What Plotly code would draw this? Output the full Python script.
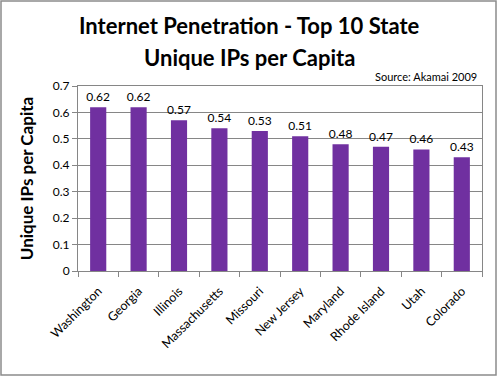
import plotly.graph_objects as go

states = ["Washington", "Georgia", "Illinois", "Massachusetts", "Missouri",
          "New Jersey", "Maryland", "Rhode Island", "Utah", "Colorado"]
values = [0.62, 0.62, 0.57, 0.54, 0.53, 0.51, 0.48, 0.47, 0.46, 0.43]
y_ticks = [0, 0.1, 0.2, 0.3, 0.4, 0.5, 0.6, 0.7]
y_tick_labels = ["0", "0.1", "0.2", "0.3", "0.4", "0.5", "0.6", "0.7"]

W, H = 498, 377
L, R, T, B = 78, 16, 86, 106
pw, ph = W - L - R, H - T - B

def px(x):
    return (x - L) / pw

def py(y):
    return (H - B - y) / ph

FONT = "Lato, Carlito, 'Liberation Sans', sans-serif"
GRID = "#868686"

fig = go.Figure(go.Bar(
    x=states, y=values, width=0.4,
    marker=dict(color="#7030A0", line=dict(width=0)),
    text=[f"{v:.2f}" for v in values], textposition="outside",
    constraintext="none",
    textfont=dict(size=12, color="black", family=FONT),
    cliponaxis=False,
))

fig.update_layout(
    width=W, height=H,
    margin=dict(l=L, r=R, t=T, b=B, autoexpand=False),
    paper_bgcolor="white", plot_bgcolor="white",
    font=dict(family=FONT, color="black"),
    showlegend=False,
    xaxis=dict(
        tickangle=-45, tickfont=dict(size=12.5), automargin=False,
        ticklabelstandoff=7,
        showline=True, linecolor=GRID, linewidth=1, mirror=True,
        ticks="outside", ticklen=5, tickcolor=GRID,
        tickson="boundaries", showgrid=False,
    ),
    yaxis=dict(
        range=[0, 0.7], tickvals=y_ticks, ticktext=y_tick_labels,
        tickfont=dict(size=12), automargin=False,
        showline=True, linecolor=GRID, linewidth=1, mirror=True,
        ticks="outside", ticklen=5, tickcolor=GRID,
        showgrid=True, gridcolor=GRID, gridwidth=1, zeroline=False,
        title=dict(text="<b>Unique IPs per Capita</b>", font=dict(size=17), standoff=14),
    ),
    annotations=[
        dict(text="<b>Internet Penetration - Top 10 State</b>", xref="paper", yref="paper",
             x=px(249), y=py(25), xanchor="center", yanchor="middle",
             showarrow=False, font=dict(size=22)),
        dict(text="<b>Unique IPs per Capita</b>", xref="paper", yref="paper",
             x=px(249), y=py(57), xanchor="center", yanchor="middle",
             showarrow=False, font=dict(size=22)),
        dict(text="Source: Akamai 2009", xref="paper", yref="paper",
             x=px(479), y=py(76), xanchor="right", yanchor="middle",
             showarrow=False, font=dict(size=11)),
    ],
    shapes=[
        dict(type="rect", xref="paper", yref="paper",
             x0=px(1), x1=px(496), y0=py(375), y1=py(1),
             line=dict(color="#8c8c8c", width=1.5), layer="below"),
    ],
)

fig.write_html(
    "out.html",
    config={"displayModeBar": False},
    post_script="document.body.style.margin='0';document.body.style.padding='0';",
)
